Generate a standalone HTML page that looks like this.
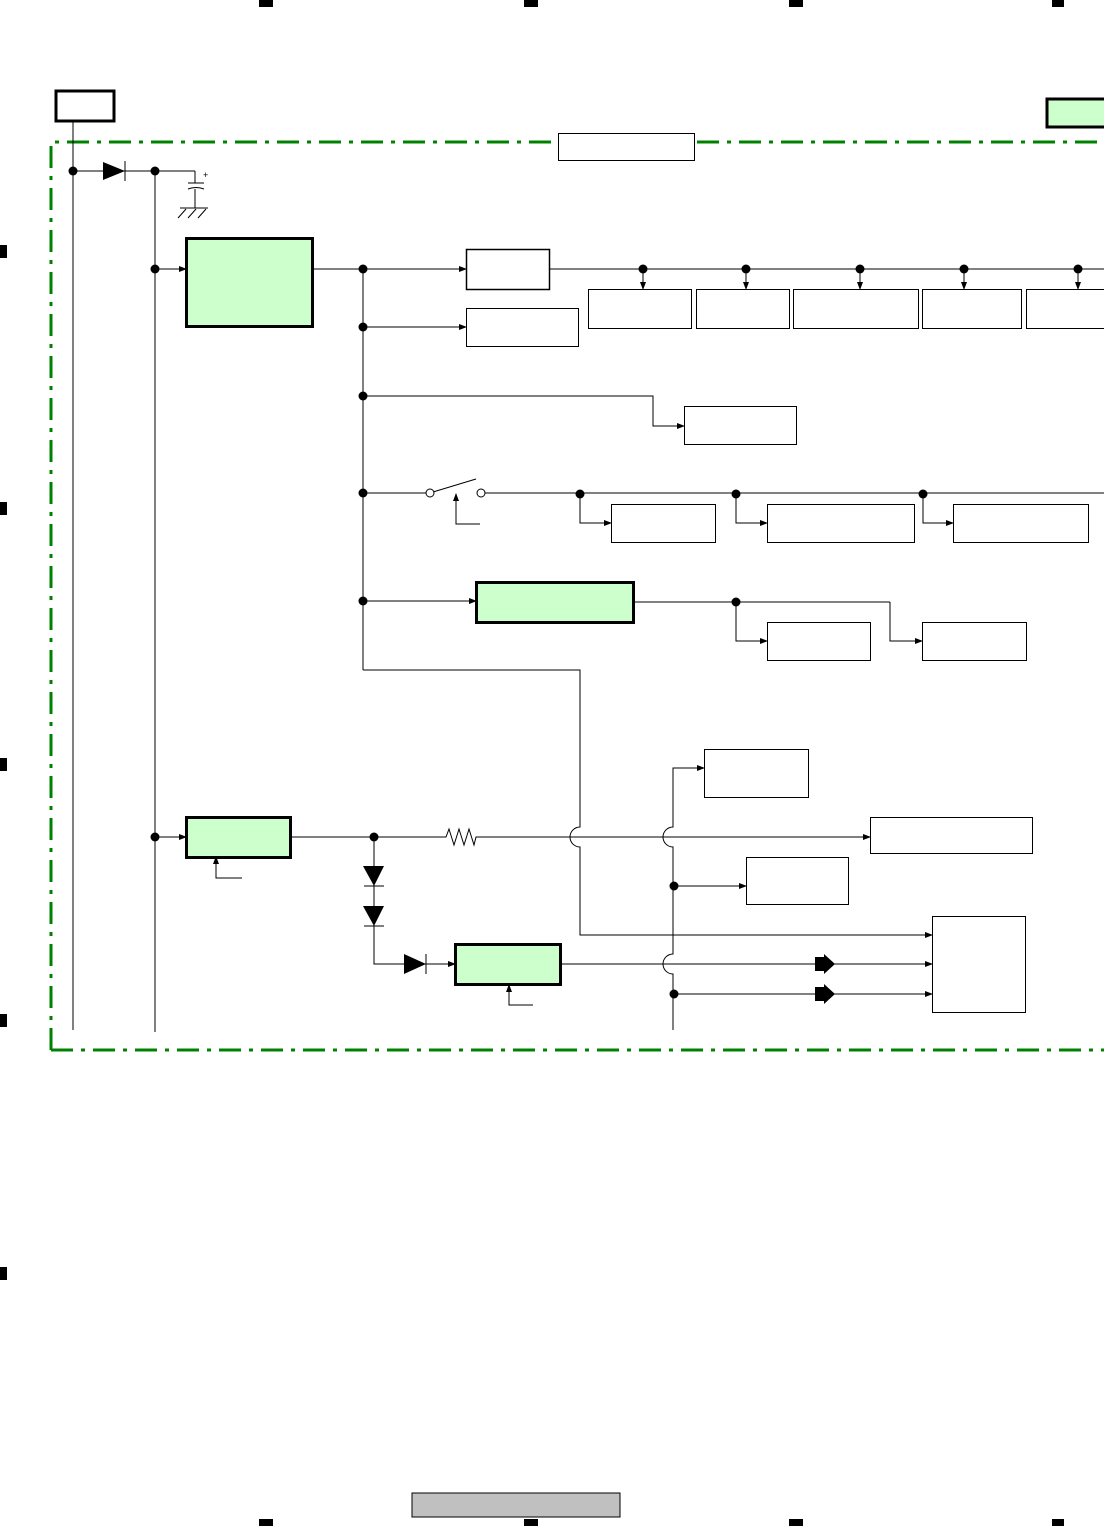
<!DOCTYPE html>
<html><head><meta charset="utf-8"><style>html,body{margin:0;padding:0;background:#fff}svg{display:block}</style></head><body>
<svg width="1104" height="1526" viewBox="0 0 1104 1526" xmlns="http://www.w3.org/2000/svg" font-family="Liberation Sans, sans-serif">
<defs>
<marker id="a" markerWidth="8" markerHeight="8" refX="7" refY="4" orient="auto" markerUnits="userSpaceOnUse"><path d="M0,1 L8,4 L0,7 z" fill="#000"/></marker>
</defs>
<g fill="#000">
<rect x="259" y="0" width="14" height="7"/><rect x="524" y="0" width="14" height="7"/><rect x="789" y="0" width="14" height="7"/><rect x="1052" y="0" width="12" height="7"/>
<rect x="259" y="1519" width="14" height="7"/><rect x="524" y="1519" width="14" height="7"/><rect x="789" y="1519" width="14" height="7"/><rect x="1052" y="1519" width="12" height="7"/>
<rect x="0" y="245" width="7" height="13"/><rect x="0" y="502" width="7" height="13"/><rect x="0" y="758" width="7" height="13"/><rect x="0" y="1014" width="7" height="13"/><rect x="0" y="1267" width="7" height="13"/>
</g>
<rect x="56" y="91" width="58" height="30" fill="#fff" stroke="#000" stroke-width="3"/>
<rect x="1047" y="99" width="60" height="28" fill="#ccffcc" stroke="#000" stroke-width="3"/>
<path d="M51,1050 L51,142 L1104,142 M51,1050 L1104,1050" fill="none" stroke="#008000" stroke-width="3" stroke-dasharray="22,8,4,8"/>
<rect x="558.5" y="133.5" width="136" height="27" fill="#fff" stroke="#000"/>
<rect x="412" y="1493" width="208" height="24" fill="#c0c0c0" stroke="#000"/>
<g stroke="#000" stroke-width="1" fill="none">
<line x1="73" y1="122" x2="73" y2="1030"/>
<line x1="73" y1="171" x2="195" y2="171"/>
<line x1="155" y1="171" x2="155" y2="1032"/>
<line x1="195" y1="171" x2="195" y2="183"/><line x1="188" y1="183" x2="204" y2="183"/><path d="M188,189 Q196,186 204,189"/><line x1="195" y1="189" x2="195" y2="208"/>
<line x1="180" y1="208" x2="208" y2="208"/><line x1="178" y1="218" x2="186" y2="209"/><line x1="188" y1="218" x2="196" y2="209"/><line x1="198" y1="218" x2="206" y2="209"/>
<line x1="155" y1="269" x2="186" y2="269" marker-end="url(#a)"/>
<line x1="312" y1="269" x2="466" y2="269" marker-end="url(#a)"/>
<line x1="550" y1="269" x2="1104" y2="269"/>
<line x1="643" y1="269" x2="643" y2="289" marker-end="url(#a)"/>
<line x1="746" y1="269" x2="746" y2="289" marker-end="url(#a)"/>
<line x1="860" y1="269" x2="860" y2="289" marker-end="url(#a)"/>
<line x1="964" y1="269" x2="964" y2="289" marker-end="url(#a)"/>
<line x1="1078" y1="269" x2="1078" y2="289" marker-end="url(#a)"/>
<line x1="363" y1="269" x2="363" y2="670"/>
<line x1="363" y1="327" x2="466" y2="327" marker-end="url(#a)"/>
<path d="M363,396 H653 V426 H684" marker-end="url(#a)"/>
<line x1="363" y1="493" x2="427" y2="493"/><line x1="433" y1="492" x2="476" y2="479"/><line x1="485" y1="493" x2="1104" y2="493"/>
<circle cx="430" cy="493" r="4" fill="#fff"/><circle cx="481" cy="493" r="4" fill="#fff"/>
<path d="M480,524 H456 V494" marker-end="url(#a)"/>
<path d="M580,493 V523 H611" marker-end="url(#a)"/>
<path d="M736,493 V523 H767" marker-end="url(#a)"/>
<path d="M923,493 V523 H953" marker-end="url(#a)"/>
<line x1="363" y1="601" x2="476" y2="601" marker-end="url(#a)"/>
<line x1="633" y1="602" x2="890" y2="602"/>
<path d="M736,602 V641 H767" marker-end="url(#a)"/>
<path d="M890,602 V641 H922" marker-end="url(#a)"/>
<path d="M363,670 H580 V827 A10,10 0 0 0 580,847 V935 H932" marker-end="url(#a)"/>
<line x1="155" y1="837" x2="186" y2="837" marker-end="url(#a)"/>
<path d="M242,878 H216 V857" marker-end="url(#a)"/>
<path d="M290,837 H446 L449,829 L454,845 L459,829 L464,845 L469,829 L474,845 L476,837 H870" marker-end="url(#a)"/>
<path d="M704,768 H673 V827 A10,10 0 0 0 673,847 V954 A10,10 0 0 0 673,974 V1030"/>
<path d="M690,768 H704" marker-end="url(#a)"/>
<line x1="673" y1="886" x2="746" y2="886" marker-end="url(#a)"/>
<line x1="673" y1="994" x2="932" y2="994" marker-end="url(#a)"/>
<path d="M560,964 H932" marker-end="url(#a)"/>
<path d="M374,837 V964 H455" marker-end="url(#a)"/>
<line x1="364" y1="886" x2="384" y2="886"/><line x1="364" y1="926" x2="384" y2="926"/><line x1="426" y1="954" x2="426" y2="974"/><line x1="125" y1="161" x2="125" y2="181"/>
<path d="M533,1005 H509 V985" marker-end="url(#a)"/>
</g>
<g fill="#000">
<path d="M103,162 L125,171 L103,180 z"/>
<path d="M363,866 L384,866 L374,886 z"/><path d="M363,906 L384,906 L374,926 z"/>
<path d="M404,954 L426,964 L404,974 z"/>
<path d="M815,957 H824 V954 L835,964 L824,974 V971 H815 z"/>
<path d="M815,987 H824 V984 L835,994 L824,1004 V1001 H815 z"/>
<circle cx="73" cy="171" r="4.5"/><circle cx="155" cy="171" r="4.5"/><circle cx="155" cy="269" r="4.5"/><circle cx="363" cy="269" r="4.5"/>
<circle cx="643" cy="269" r="4.5"/><circle cx="746" cy="269" r="4.5"/><circle cx="860" cy="269" r="4.5"/><circle cx="964" cy="269" r="4.5"/><circle cx="1078" cy="269" r="4.5"/>
<circle cx="363" cy="327" r="4.5"/><circle cx="363" cy="396" r="4.5"/><circle cx="363" cy="493" r="4.5"/><circle cx="363" cy="601" r="4.5"/>
<circle cx="580" cy="494" r="4.5"/><circle cx="736" cy="494" r="4.5"/><circle cx="923" cy="494" r="4.5"/><circle cx="736" cy="602" r="4.5"/>
<circle cx="155" cy="837" r="4.5"/><circle cx="374" cy="837" r="4.5"/><circle cx="674" cy="886" r="4.5"/><circle cx="674" cy="994" r="4.5"/>
</g>
<text x="203" y="178" font-size="9">+</text>
<g stroke="#000" fill="#fff">
<rect x="186.5" y="238.5" width="126" height="88" fill="#ccffcc" stroke-width="3"/>
<rect x="466.5" y="249.5" width="83" height="40" stroke-width="1.5"/>
<rect x="466.5" y="308.5" width="112" height="38"/>
<rect x="588.5" y="289.5" width="103" height="39"/><rect x="696.5" y="289.5" width="93" height="39"/><rect x="793.5" y="289.5" width="125" height="39"/><rect x="922.5" y="289.5" width="99" height="39"/><rect x="1026.5" y="289.5" width="80" height="39"/>
<rect x="684.5" y="406.5" width="112" height="38"/>
<rect x="611.5" y="504.5" width="104" height="38"/><rect x="767.5" y="504.5" width="147" height="38"/><rect x="953.5" y="504.5" width="135" height="38"/>
<rect x="476.5" y="582.5" width="157" height="40" fill="#ccffcc" stroke-width="3"/>
<rect x="767.5" y="622.5" width="103" height="38"/><rect x="922.5" y="622.5" width="104" height="38"/>
<rect x="704.5" y="749.5" width="104" height="48"/>
<rect x="870.5" y="817.5" width="162" height="36"/>
<rect x="746.5" y="857.5" width="102" height="47"/>
<rect x="932.5" y="916.5" width="93" height="96"/>
<rect x="186.5" y="817.5" width="104" height="40" fill="#ccffcc" stroke-width="3"/>
<rect x="455.5" y="944.5" width="105" height="40" fill="#ccffcc" stroke-width="3"/>
</g>
</svg>
</body></html>
